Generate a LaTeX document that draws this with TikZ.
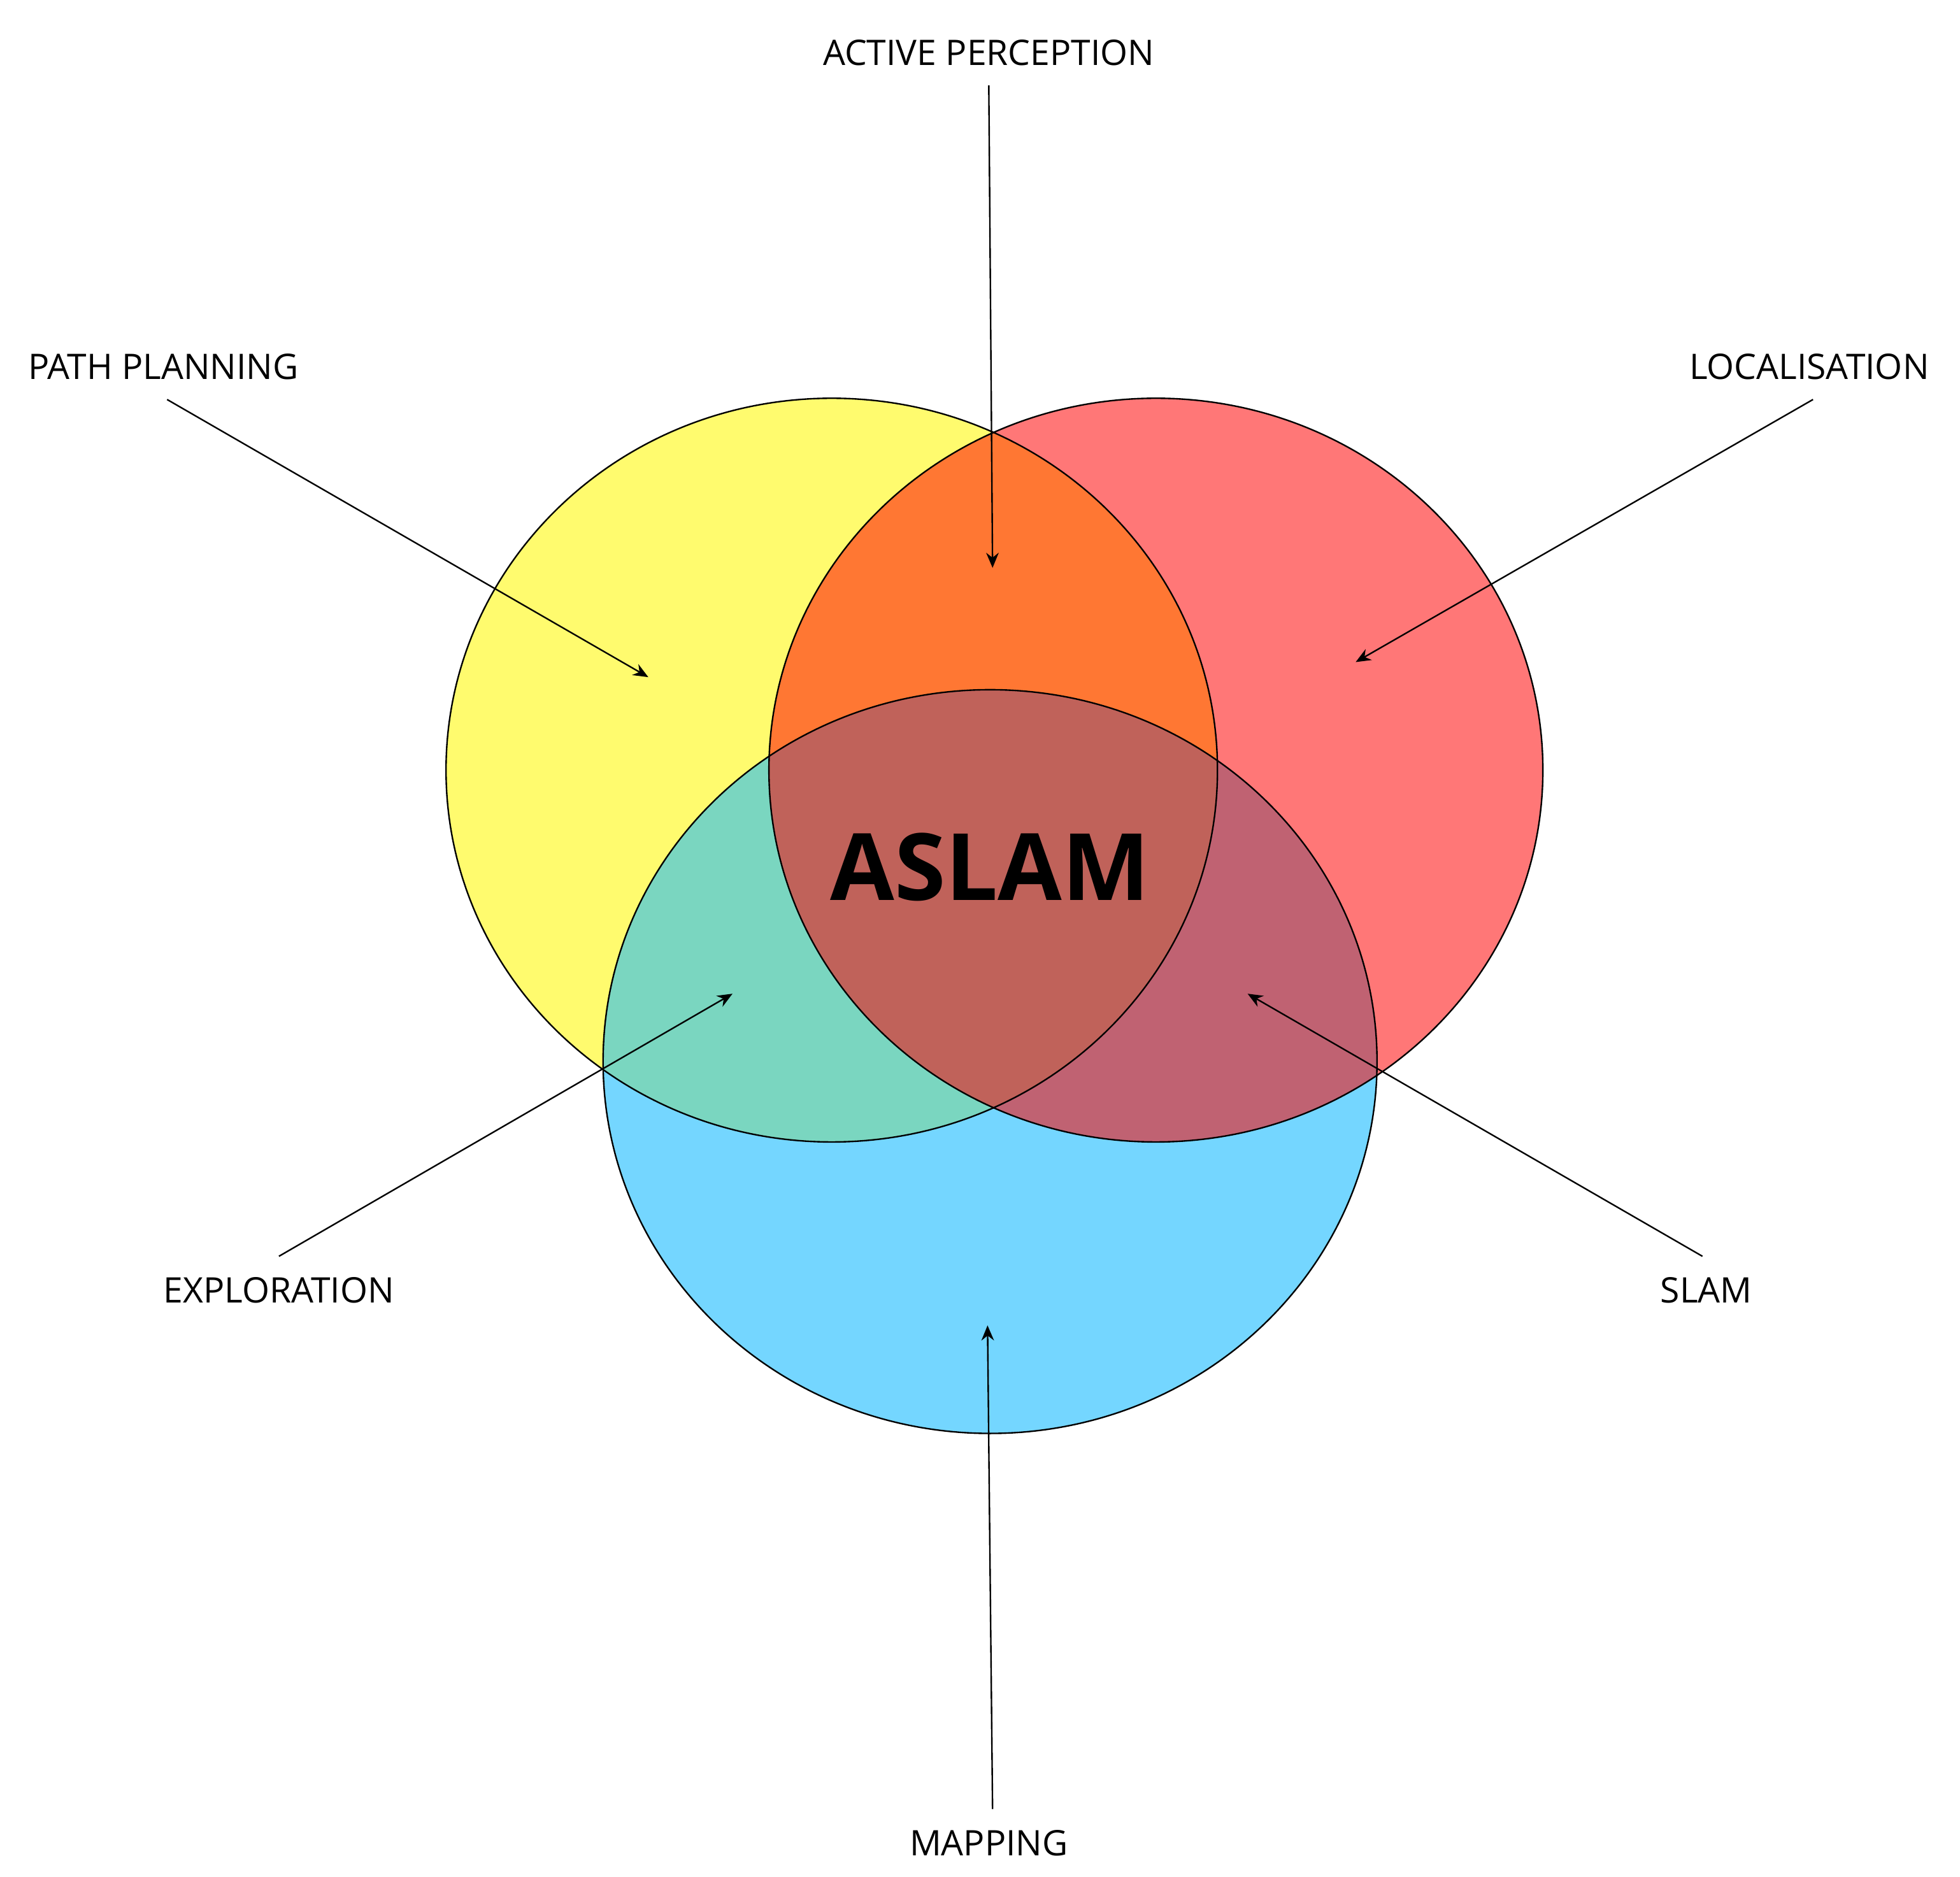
\documentclass[tikz,border=0pt]{standalone}
\usepackage{fontspec}
\setmainfont{Open Sans}
\usetikzlibrary{arrows.meta}
\definecolor{cy}{HTML}{FFFB6E}
\definecolor{cr}{HTML}{FF7777}
\definecolor{cb}{HTML}{74D6FF}
\definecolor{cyr}{HTML}{FF7733}
\definecolor{cyb}{HTML}{7AD6C0}
\definecolor{crb}{HTML}{C06272}
\definecolor{call}{HTML}{C0625A}
\begin{document}
\begin{tikzpicture}[x=0.5pt,y=-0.5pt,
  lab/.style={font=\fontsize{14}{16}\selectfont},
  arr/.style={line width=0.6pt,-{Stealth[length=6pt,width=5pt]}}]
\useasboundingbox (0,0) rectangle (1560,1494);
\def\Y{(662,613) ellipse [x radius=307,y radius=296]}
\def\R{(920,613) ellipse [x radius=308,y radius=296]}
\def\B{(788,845) ellipse [x radius=308,y radius=296]}
\fill[cy] \Y; \fill[cr] \R; \fill[cb] \B;
\begin{scope}\clip \Y; \fill[cyr] \R; \fill[cyb] \B; \end{scope}
\begin{scope}\clip \R; \fill[crb] \B; \end{scope}
\begin{scope}\clip \Y; \clip \R; \fill[call] \B; \end{scope}
\draw[line width=0.6pt] \Y; \draw[line width=0.6pt] \R; \draw[line width=0.6pt] \B;
\node (aslam) at (788,690) {\fontsize{37}{40}\selectfont\bfseries ASLAM};
\node[lab] (ap) at (787,42) {ACTIVE PERCEPTION};
\node[lab] (pp) at (130,292) {PATH PLANNING};
\node[lab] (lo) at (1440,292) {LOCALISATION};
\node[lab] (ex) at (222,1027) {EXPLORATION};
\node[lab] (sl) at (1358,1027) {SLAM};
\node[lab] (ma) at (787,1467) {MAPPING};
\coordinate (tap) at (790,452);
\coordinate (tpp) at (516,539);
\coordinate (tlo) at (1079,527);
\coordinate (tex) at (583,791);
\coordinate (tsl) at (993,791);
\coordinate (tma) at (786,1055);
\draw[arr] (787,68) -- (tap);
\draw[arr] (133,318) -- (tpp);
\draw[arr] (1443,318) -- (tlo);
\draw[arr] (222,1000) -- (tex);
\draw[arr] (1355,1000) -- (tsl);
\draw[arr] (790,1440) -- (tma);
\end{tikzpicture}
\end{document}
